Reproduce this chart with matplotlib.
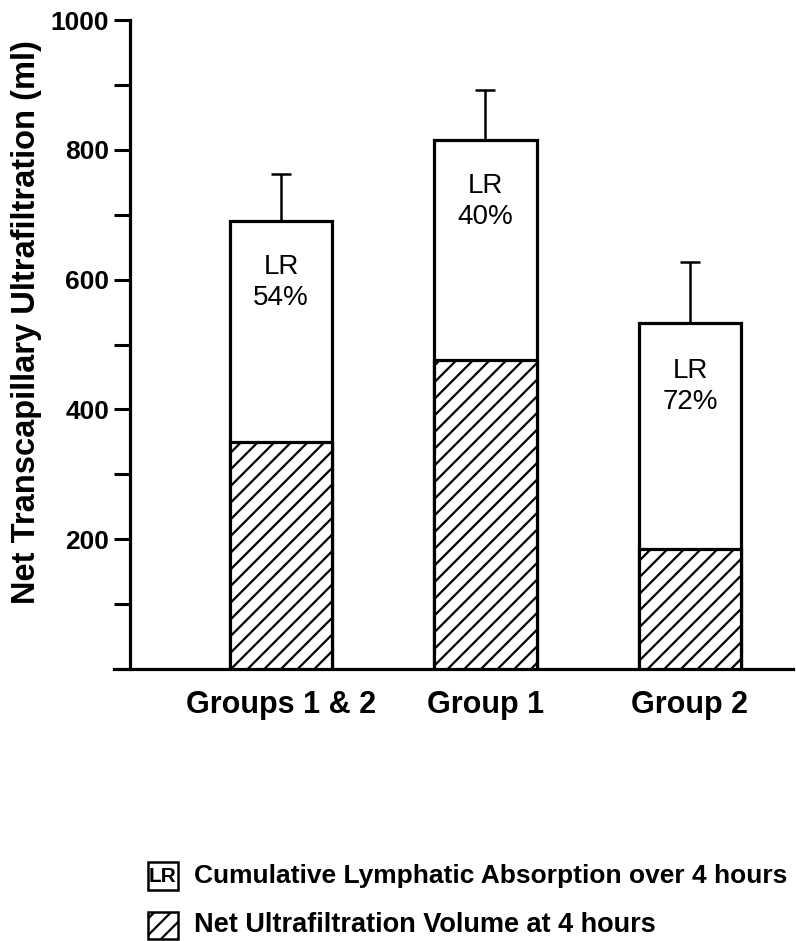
import matplotlib
matplotlib.use('Agg')
import matplotlib.pyplot as plt
from matplotlib.patches import Rectangle

groups = ['Groups 1 & 2', 'Group 1', 'Group 2']
total_uf = [690, 815, 533]        # top of open bar (ml)
total_err = [73, 77, 94]
net_uf = [350, 476, 185]          # hatched part (ml)
net_err = [50, 63, 69]
lr_pct = ['54%', '40%', '72%']

yticks = list(range(100, 1001, 100))
ylabels = ['' if v % 200 else str(v) for v in yticks]

plt.rcParams['font.family'] = ['Liberation Sans', 'DejaVu Sans']
plt.rcParams['font.weight'] = 'bold'
plt.rcParams['axes.labelweight'] = 'bold'
plt.rcParams['hatch.linewidth'] = 1.6

fig = plt.figure(figsize=(7.96, 9.41), dpi=100)
ax = fig.add_axes([114/796, 272/941, 679/796, 649/941])

x = list(range(len(groups)))
w = 0.5
ax.bar(x, total_uf, width=w, color='white', edgecolor='black', linewidth=2.3, zorder=2)
ax.bar(x, net_uf, width=w, color='white', edgecolor='black', linewidth=2.3,
       hatch='//', zorder=3)

eb = dict(fmt='none', ecolor='black', elinewidth=1.8, capsize=7, capthick=1.8, zorder=1)
ax.errorbar(x, total_uf, yerr=[[0]*3, total_err], **eb)
ax.errorbar(x, net_uf, yerr=[[0]*3, net_err], **eb)

for i in x:
    ypos = net_uf[i] + 0.72 * (total_uf[i] - net_uf[i])
    ax.text(i, ypos, 'LR\n' + lr_pct[i], ha='center', va='center', fontsize=20,
            fontweight='normal', linespacing=1.25, zorder=4)

ax.set_xlim(-0.817, 2.504)
ax.set_ylim(0, 1000)
ax.tick_params(axis='x', length=0, pad=15, labelsize=22)
ax.tick_params(axis='y', length=11.5, width=2.2, pad=3.5, labelsize=19)
ax.set_xticks(x)
ax.set_xticklabels(groups)
ax.set_yticks(yticks)
ax.set_yticklabels(ylabels)

ax.spines['top'].set_visible(False)
ax.spines['right'].set_visible(False)
ax.spines['left'].set_position(('axes', 16/679))
ax.spines['left'].set_linewidth(2.3)
ax.spines['bottom'].set_linewidth(2.3)
ax.set_ylabel('Net Transcapillary Ultrafiltration (ml)', fontsize=23.5)
ax.yaxis.set_label_coords(-0.106, 0.535)

# key below the chart
def fx(px):
    return px / 796

def fy(py):
    return 1 - py / 941

fig.add_artist(Rectangle((fx(148), fy(890)), fx(30), 28/941, transform=fig.transFigure,
                         facecolor='white', edgecolor='black', linewidth=1.8))
fig.text(fx(163), fy(876), 'LR', ha='center', va='center', fontsize=15)
fig.text(fx(194), fy(876), 'Cumulative Lymphatic Absorption over 4 hours',
         ha='left', va='center', fontsize=19)

fig.add_artist(Rectangle((fx(148), fy(939)), fx(30), 27/941, transform=fig.transFigure,
                         facecolor='white', edgecolor='black', linewidth=1.8, hatch='//'))
fig.text(fx(194), fy(925), 'Net Ultrafiltration Volume at 4 hours',
         ha='left', va='center', fontsize=19.5)

fig.savefig('out.png', dpi=100)
